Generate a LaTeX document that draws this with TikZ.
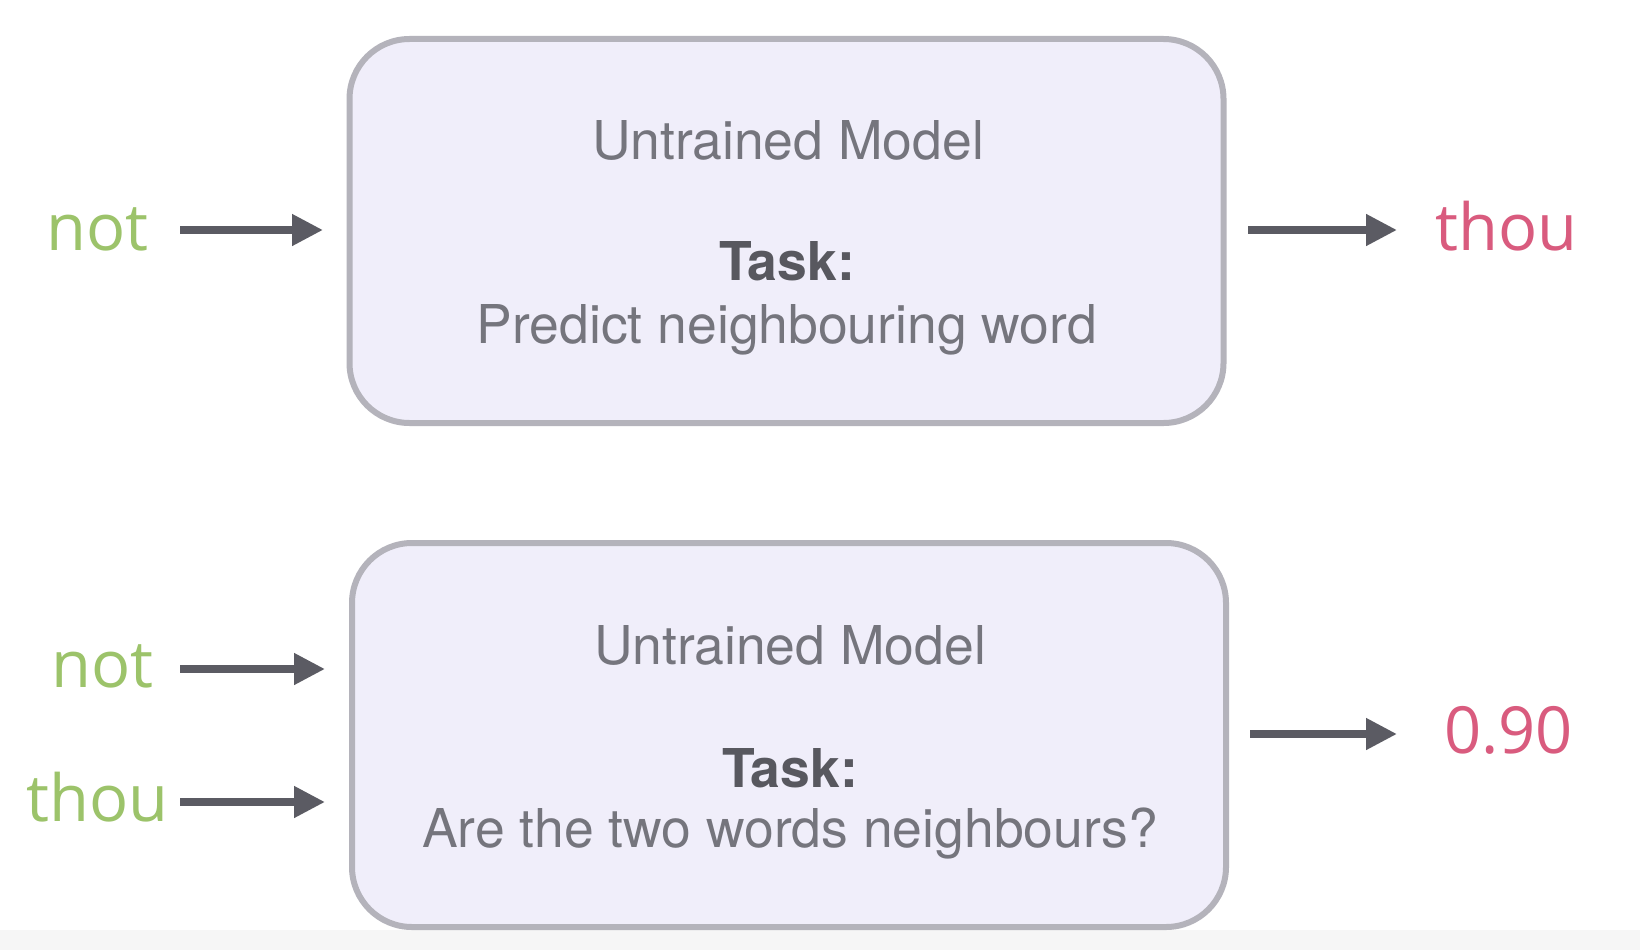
\documentclass[tikz,border=0pt]{standalone}
\usepackage{fontspec}
\usetikzlibrary{arrows.meta}
\newfontfamily\lblfont{Open Sans}
\newfontfamily\boxfont{TeX Gyre Heros}
\definecolor{wgreen}{HTML}{9CC36A}
\definecolor{wpink}{HTML}{D95B7E}
\definecolor{arrgray}{HTML}{5B5B63}
\definecolor{boxline}{HTML}{B4B3BB}
\definecolor{boxfill}{HTML}{F0EEFA}
\definecolor{boxtext}{HTML}{75757D}
\definecolor{boxbold}{HTML}{58585F}
\definecolor{stripgray}{HTML}{F6F6F6}
\tikzset{
  modelbox/.style={draw=boxline, fill=boxfill, line width=6pt, rounded corners=60pt,
    minimum width=874pt, minimum height=384pt, inner sep=0pt},
  boxtxt/.style={inner sep=0pt, anchor=base, text=boxtext, font=\boxfont\fontsize{53.5}{64}\selectfont},
  boxtask/.style={boxtxt, text=boxbold, font=\boxfont\bfseries\fontsize{53.5}{64}\selectfont},
  inword/.style={inner sep=0pt, text=wgreen, font=\lblfont\fontsize{65}{78}\selectfont},
  outword/.style={inner sep=0pt, text=wpink, font=\lblfont\fontsize{65}{78}\selectfont},
  arr/.style={draw=arrgray, line width=7.5pt, -{Triangle[length=31pt,width=30pt]}}
}
\begin{document}
\begin{tikzpicture}[x=1pt,y=-1pt]
\useasboundingbox (0,0) rectangle (1640,950);
\fill[white] (0,0) rectangle (1640,950);
\fill[stripgray] (0,930) rectangle (1640,950);

% top box
\node[modelbox] (box1) at (786.5,231) {};
\node[boxtxt] (m1) at (788,159) {Untrained Model};
\node[boxtask] (t1) at (787,280) {Task:};
\node[boxtxt] (d1) at (787,343) {Predict neighbouring word};

% bottom box
\node[modelbox] (box2) at (789,735) {};
\node[boxtxt] (m2) at (790,664) {Untrained Model};
\node[boxtask] (t2) at (790,787) {Task:};
\node[boxtxt] (d2) at (790,847) {Are the two words neighbours?};

% labels
\node[inword, anchor=base east] (not1) at (149,250) {not};
\node[outword, anchor=base west] (out1) at (1435,250) {thou};
\node[inword, anchor=base east] (not2) at (154,687) {not};
\node[inword, anchor=base east] (thou2) at (169,821) {thou};
\node[outword, anchor=base west] (out2) at (1444,753) {0.90};

% arrow coordinates
\coordinate (a1s) at (180,230); \coordinate (a1e) at (323,230);
\coordinate (a2s) at (1248,230); \coordinate (a2e) at (1397,230);
\coordinate (a3s) at (180,669); \coordinate (a3e) at (325,669);
\coordinate (a4s) at (180,802); \coordinate (a4e) at (325,802);
\coordinate (a5s) at (1250,734); \coordinate (a5e) at (1397,734);

\draw[arr] (a1s) -- (a1e);
\draw[arr] (a2s) -- (a2e);
\draw[arr] (a3s) -- (a3e);
\draw[arr] (a4s) -- (a4e);
\draw[arr] (a5s) -- (a5e);
\end{tikzpicture}
\end{document}
